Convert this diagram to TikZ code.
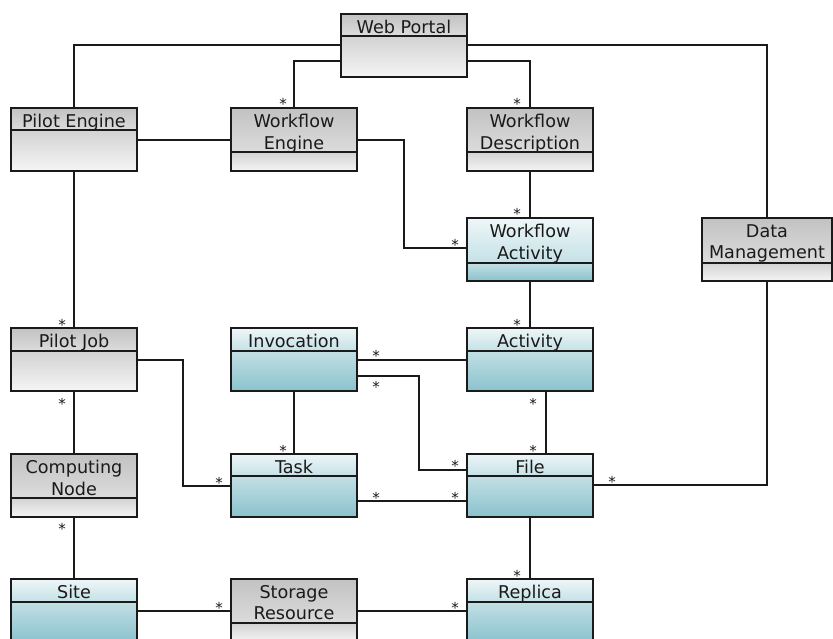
\documentclass[tikz,border=0pt]{standalone}
\usepackage{fontspec}
\setmainfont{DejaVu Sans}
\definecolor{ghtop}{HTML}{C2C2C2}
\definecolor{ghbot}{HTML}{DCDCDC}
\definecolor{gbtop}{HTML}{D2D2D2}
\definecolor{gbbot}{HTML}{F5F5F5}
\definecolor{bhtop}{HTML}{EEF6F8}
\definecolor{bhbot}{HTML}{C4E1E6}
\definecolor{bbtop}{HTML}{C2DFE4}
\definecolor{bbbot}{HTML}{8AC2CD}
\definecolor{ink}{HTML}{1A1A1A}
\tikzset{
  ghead/.style={top color=ghtop, bottom color=ghbot},
  gbody/.style={top color=gbtop, bottom color=gbbot},
  bhead/.style={top color=bhtop, bottom color=bhbot},
  bbody/.style={top color=bbtop, bottom color=bbbot},
  divline/.style={draw=ink, line width=1.4pt},
  classbox/.style={draw=ink, line width=1.6pt, minimum height=63pt, inner sep=0pt, outer sep=0pt},
  classlabel/.style={anchor=north, inner sep=0pt, align=center, text=ink,
    font=\fontsize{17.6}{21.5}\selectfont},
  conn/.style={draw=ink, line width=1.3pt},
  mult/.style={anchor=base, inner sep=0pt, text=ink, font=\fontsize{15}{17}\selectfont},
}
\newcommand\umlclass[7]{%
  \shade[#6head] (#2,#3) rectangle (#2+#4,#3+#5);
  \shade[#6body] (#2,#3+#5) rectangle (#2+#4,#3+63);
  \draw[divline] (#2,#3+#5) -- (#2+#4,#3+#5);
  \node[classbox, minimum width=#4pt, anchor=north west] (#1) at (#2,#3) {};
  \node[classlabel] (#1-name) at (#2+#4/2,#3+6) {#7};
}
\begin{document}
\begin{tikzpicture}[x=1pt,y=-1pt]
\useasboundingbox (0,0) rectangle (833,639);
\clip (0,0) rectangle (833,639);
\fill[white] (0,0) rectangle (833,639);

% classes
\umlclass{wp}{341}{14}{126}{22}{g}{Web Portal}
\umlclass{pe}{11}{108}{126}{22}{g}{Pilot Engine}
\umlclass{we}{231}{108}{126}{44}{g}{Workflow\\Engine}
\umlclass{wd}{467}{108}{126}{44}{g}{Workflow\\Description}
\umlclass{wa}{467}{218}{126}{45}{b}{Workflow\\Activity}
\umlclass{dm}{702}{218}{130}{45}{g}{Data\\Management}
\umlclass{pj}{11}{328}{126}{23}{g}{Pilot Job}
\umlclass{inv}{231}{328}{126}{23}{b}{Invocation}
\umlclass{act}{467}{328}{126}{23}{b}{Activity}
\umlclass{cn}{11}{454}{126}{44}{g}{Computing\\Node}
\umlclass{task}{231}{454}{126}{22}{b}{Task}
\umlclass{file}{467}{454}{126}{22}{b}{File}
\umlclass{site}{11}{579}{126}{23}{b}{Site}
\umlclass{sr}{231}{579}{126}{44}{g}{Storage\\Resource}
\umlclass{rep}{467}{579}{126}{23}{b}{Replica}

% connectors
\draw[conn] ([yshift=-31pt]wp.north west) -| (pe.north);
\draw[conn] ([yshift=-47pt]wp.north west) -| (we.north);
\draw[conn] ([yshift=-31pt]wp.north east) -| (dm.north);
\draw[conn] ([yshift=-47pt]wp.north east) -| (wd.north);
\draw[conn] ([yshift=-32pt]pe.north east) -- ([yshift=-32pt]we.north west);
\draw[conn] ([yshift=-32pt]we.north east) -- ++(47,0) |- ([yshift=-30pt]wa.north west);
\draw[conn] (wd.south) -- (wa.north);
\draw[conn] (pe.south) -- (pj.north);
\draw[conn] (wa.south) -- (act.north);
\draw[conn] (dm.south) |- ([yshift=-31pt]file.north east);
\draw[conn] ([yshift=-32pt]pj.north east) -- ++(46,0) |- ([yshift=-32pt]task.north west);
\draw[conn] (pj.south) -- (cn.north);
\draw[conn] ([yshift=-32pt]inv.north east) -- ([yshift=-32pt]act.north west);
\draw[conn] ([yshift=-48pt]inv.north east) -- ++(62,0) |- ([yshift=-16pt]file.north west);
\draw[conn] (inv.south) -- (task.north);
\draw[conn] ([xshift=16pt]act.south) -- ([xshift=16pt]file.north);
\draw[conn] ([yshift=-47pt]task.north east) -- ([yshift=-47pt]file.north west);
\draw[conn] (cn.south) -- (site.north);
\draw[conn] (file.south) -- (rep.north);
\draw[conn] ([yshift=-32pt]site.north east) -- ([yshift=-32pt]sr.north west);
\draw[conn] ([yshift=-32pt]sr.north east) -- ([yshift=-32pt]rep.north west);

% multiplicities
\node[mult] (m1) at (283,110) {*};
\node[mult] (m2) at (517,110) {*};
\node[mult] (m3) at (455,251) {*};
\node[mult] (m4) at (517,220) {*};
\node[mult] (m5) at (62,330) {*};
\node[mult] (m6) at (517,330) {*};
\node[mult] (m7) at (62,409) {*};
\node[mult] (m8) at (283,456) {*};
\node[mult] (m9) at (219,488) {*};
\node[mult] (m10) at (376,361) {*};
\node[mult] (m11) at (376,392) {*};
\node[mult] (m12) at (455,471) {*};
\node[mult] (m13) at (376,503) {*};
\node[mult] (m14) at (455,503) {*};
\node[mult] (m15) at (533,409) {*};
\node[mult] (m16) at (533,456) {*};
\node[mult] (m17) at (612,487) {*};
\node[mult] (m18) at (62,534) {*};
\node[mult] (m19) at (517,581) {*};
\node[mult] (m20) at (219,613) {*};
\node[mult] (m21) at (455,613) {*};
\end{tikzpicture}
\end{document}
